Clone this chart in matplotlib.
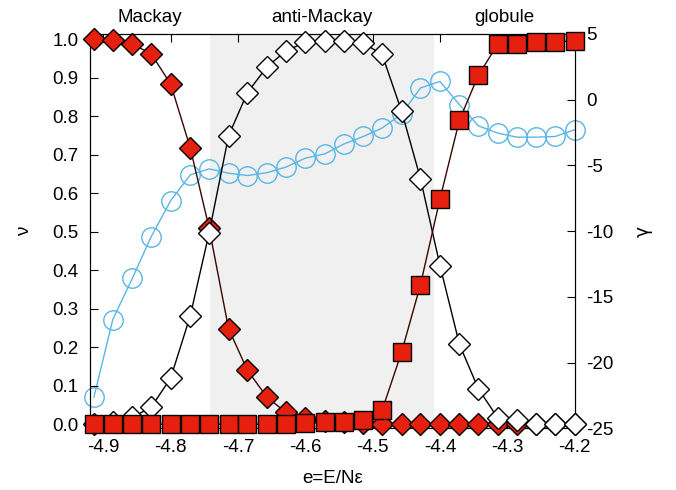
import matplotlib
matplotlib.use("Agg")
import matplotlib.pyplot as plt

plt.rcParams['font.family'] = ['Liberation Sans', 'DejaVu Sans']
plt.rcParams['font.size'] = 13.5

# energy per particle
e = [-4.914, -4.886, -4.857, -4.829, -4.800, -4.771, -4.743, -4.714, -4.686,
     -4.657, -4.629, -4.600, -4.571, -4.543, -4.514, -4.486, -4.457, -4.429,
     -4.400, -4.371, -4.343, -4.314, -4.286, -4.257, -4.229, -4.200]

# order parameters (left axis)
nu_mackay = [1.0, 0.998, 0.987, 0.962, 0.883, 0.718, 0.51, 0.248, 0.14, 0.07,
             0.031, 0.015, 0.008, 0.005, 0.003, 0.0, 0.0, 0.0, 0.0, 0.0,
             0.0, 0.0, 0.0, 0.0, 0.0, 0.0]
nu_anti = [0.0, 0.005, 0.018, 0.044, 0.12, 0.281, 0.496, 0.749, 0.861, 0.928,
           0.969, 0.992, 0.995, 0.995, 0.990, 0.96, 0.813, 0.638, 0.412, 0.207,
           0.092, 0.016, 0.01, 0.0, 0.0, 0.0]
nu_glob = [0.0, 0.0, 0.0, 0.0, 0.0, 0.0, 0.0, 0.0, 0.0, 0.0, 0.0, 0.003,
           0.005, 0.006, 0.01, 0.036, 0.187, 0.362, 0.585, 0.79, 0.906, 0.987,
           0.988, 0.993, 0.993, 0.995]

# gamma (right axis)
gamma = [-22.63, -16.73, -13.6, -10.43, -7.69, -5.73, -5.27, -5.6, -5.78,
         -5.56, -5.14, -4.46, -4.13, -3.39, -2.81, -2.17, -1.11, 0.88, 1.38,
         -0.4, -2.0, -2.55, -2.86, -2.86, -2.81, -2.3]

shade = (-4.742, -4.409)
regions = ["Mackay", "anti-Mackay", "globule"]
region_x = [-4.831, -4.576, -4.304]

red = '#e5200f'
blue = '#5ab6e6'

fig = plt.figure(figsize=(6.76, 4.9), dpi=100)
ax = fig.add_axes([0.133, 0.126, 0.718, 0.805])
ax2 = ax.twinx()

# gamma axes sits behind, carries the shading and the white background
ax2.set_zorder(0)
ax.set_zorder(1)
ax.patch.set_visible(False)
ax2.patch.set_facecolor('white')
ax2.axvspan(shade[0], shade[1], color='#f0f0f0', zorder=0, lw=0)

ax2.plot(e, gamma, '-o', color=blue, mfc='none', mec=blue, ms=14, lw=1, mew=1,
         clip_on=False)

ax.plot(e, nu_mackay, '-D', color='#3a0500', mfc=red, mec='black', ms=11, lw=1,
        mew=1, zorder=3, clip_on=False)
ax.plot(e, nu_anti, '-D', color='black', mfc='white', mec='black', ms=11, lw=1,
        mew=1, zorder=4, clip_on=False)
ax.plot(e, nu_glob, '-s', color='#3a0500', mfc=red, mec='black', ms=13.5, lw=1,
        mew=1, zorder=5, clip_on=False)

ax.set_xlim(-4.92, -4.199)
ax.set_ylim(-0.0105, 1.0137)
ax2.set_ylim(-25, 5)

ax.set_xticks([-4.9, -4.8, -4.7, -4.6, -4.5, -4.4, -4.3, -4.2])
ax.set_xticklabels(['-4.9', '-4.8', '-4.7', '-4.6', '-4.5', '-4.4', '-4.3', '-4.2'])
ax.set_yticks([i / 10 for i in range(11)])
ax.set_yticklabels(['%.1f' % (i / 10) for i in range(11)])
ax2.set_yticks([5, 0, -5, -10, -15, -20, -25])
ax2.set_yticklabels(['5', '0', '-5', '-10', '-15', '-20', '-25'])

ax.tick_params(axis='x', direction='in', top=True, length=6, pad=8)
ax.tick_params(axis='y', direction='in', left=True, right=False, length=6, pad=8)
ax2.tick_params(axis='y', direction='in', length=6, pad=8)

ax.set_xlabel('e=E/Nε', labelpad=10)
ax.set_ylabel('ν', labelpad=14)
ax2.set_ylabel('γ', labelpad=14, family=['DejaVu Sans'])

for name, xp in zip(regions, region_x):
    ax.text(xp, 1.02, name, ha='center', va='bottom', transform=ax.get_xaxis_transform())

fig.savefig('out.png', dpi=100)
